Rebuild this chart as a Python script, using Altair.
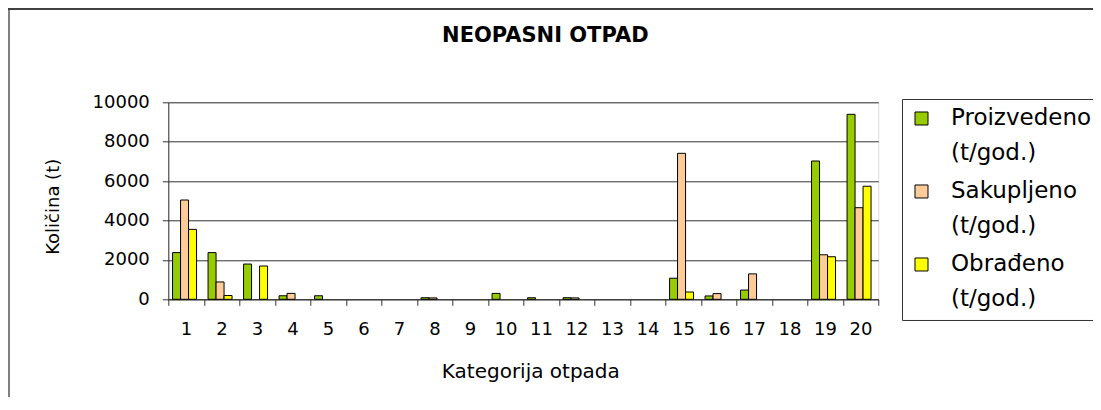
import altair as alt
import pandas as pd

# ---- data ----
categories = [str(i) for i in range(1, 21)]
series = ["Proizvedeno", "Sakupljeno", "Obrađeno"]
proizvedeno = [2370, 2370, 1790, 180, 180, None, None, 80, None, 300,
               80, 80, None, None, 1070, 170, 470, None, 7020, 9390]
sakupljeno = [5040, 880, None, 300, None, None, None, 70, None, None,
              None, 70, None, None, 7410, 290, 1290, None, 2260, 4650]
obradjeno = [3550, 190, 1690, None, None, None, None, None, None, None,
             None, None, None, None, 370, None, None, None, 2160, 5740]
colors = ["#99CC00", "#FFCC99", "#FFFF00"]
y_ticks = [0, 2000, 4000, 6000, 8000, 10000]

rows = []
for name, vals in zip(series, [proizvedeno, sakupljeno, obradjeno]):
    for cat, v in zip(categories, vals):
        rows.append({"kat": cat, "serija": name, "vrijednost": v})
df = pd.DataFrame(rows)

FONT = "DejaVu Sans"

label_expr = ("datum.label == 'Obrađeno' ? ['\u00a0Obrađeno', '(t/god.)'] "
              ": [datum.label, '(t/god.)']")

bars = alt.Chart(df).mark_bar(stroke="black", strokeWidth=1).encode(
    x=alt.X(
        "kat:N", sort=categories,
        scale=alt.Scale(paddingInner=0, paddingOuter=0),
        axis=alt.Axis(
            title="Kategorija otpada", labelAngle=0, tickBand="extent",
            tickSize=6, tickColor="#333333", domainColor="#333333",
            labelFont=FONT, labelFontSize=18, labelColor="black",
            labelPadding=15, grid=False,
            titleFont=FONT, titleFontSize=20, titleFontWeight="normal",
            titleColor="black", titleX=362, titleY=78,
            titleBaseline="alphabetic", titleAlign="center",
        ),
    ),
    xOffset=alt.XOffset(
        "serija:N", sort=series,
        scale=alt.Scale(domain=series, paddingInner=0, paddingOuter=0.72, align=0.37),
    ),
    y=alt.Y(
        "vrijednost:Q",
        scale=alt.Scale(domain=[0, 10000], nice=False),
        axis=alt.Axis(
            title="Količina (t)", values=y_ticks, format="d",
            tickSize=6, tickColor="#333333", domainColor="#333333",
            labelFont=FONT, labelFontSize=18, labelColor="black",
            labelPadding=13, grid=True, gridColor="#333333", gridWidth=1,
            titleFont=FONT, titleFontSize=18, titleFontWeight="normal",
            titleColor="black", titleX=-106, titleY=104,
            titleBaseline="bottom", titleAlign="center", titleAngle=-90,
        ),
    ),
    color=alt.Color(
        "serija:N", sort=series,
        scale=alt.Scale(domain=series, range=colors),
        legend=alt.Legend(
            title=None, orient="none", legendX=733.7, legendY=-3.3,
            symbolType="square", symbolSize=169, symbolStrokeColor="black",
            symbolStrokeWidth=1, symbolOpacity=1,
            labelFont=FONT, labelFontSize=23, labelColor="black",
            labelOffset=18, labelLimit=400, labelExpr=label_expr,
            rowPadding=14, padding=8, strokeColor="#333333", fillColor="white",
        ),
    ),
)

frame_left = alt.Chart(alt.Data(values=[{}])).mark_rule(
    color="black", strokeWidth=1
).encode(x=alt.value(-159.3), y=alt.value(-94.3), y2=alt.value(300))

frame_top = alt.Chart(alt.Data(values=[{}])).mark_rule(
    color="#404040", strokeWidth=2
).encode(x=alt.value(-160.3), x2=alt.value(925), y=alt.value(-93.3))

chart = alt.layer(bars, frame_left, frame_top).properties(
    width=710,
    height=197,
    autosize=alt.AutoSizeParams(type="none"),
    padding={"left": 160.3, "top": 94.3, "right": 214.5, "bottom": 98},
    title=alt.Title(
        "NEOPASNI OTPAD", font=FONT, fontSize=21, fontWeight="bold",
        color="black", anchor="middle", dx=22, offset=-55.7,
        baseline="alphabetic",
    ),
).configure_view(
    fill="#C0C0C0", stroke="#808080", strokeWidth=1
).configure(
    style={"guide-label": {"lineHeight": 35}}
)

chart.save("out.html", embed_options={"renderer": "svg", "actions": False})
